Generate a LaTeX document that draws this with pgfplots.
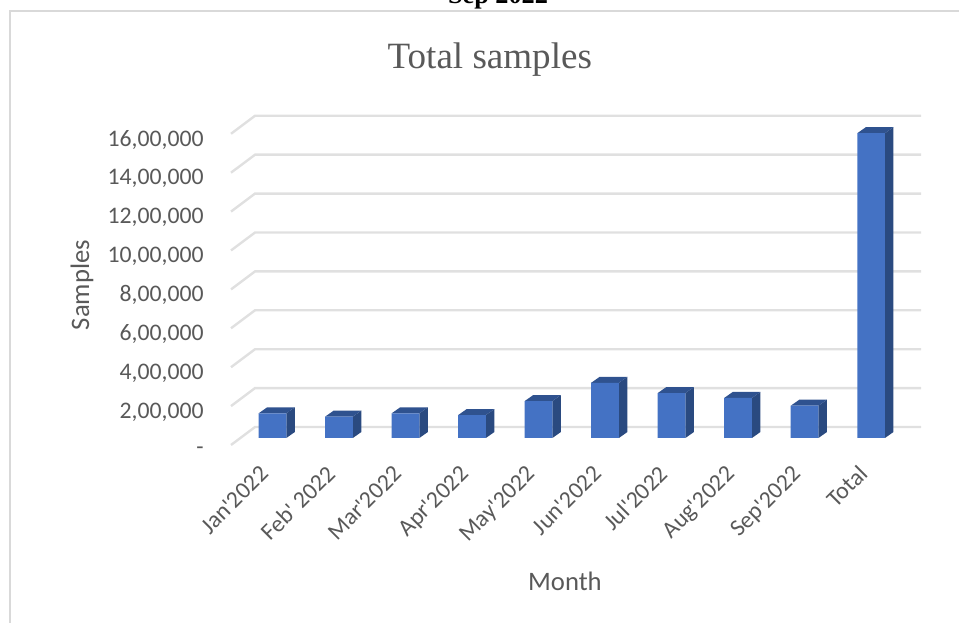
\documentclass[border=0pt]{standalone}
\usepackage{fontspec}
\usepackage{pgfplots}
\pgfplotsset{compat=1.18}
\setmainfont{Carlito}
\newfontfamily\carl{Carlito}
\newfontfamily\timesf{Liberation Serif}
\definecolor{txt}{HTML}{595959}
\definecolor{gridc}{HTML}{E0E0E0}
\definecolor{framec}{HTML}{D9D9D9}
\definecolor{front}{HTML}{4472C4}
\definecolor{topc}{HTML}{2F528F}
\definecolor{sidec}{HTML}{2A4A80}

% side and top faces of one bar: #1 = category position, #2 = samples
\newcommand{\cube}[2]{%
  \edef\temp{\noexpand\addplot[fill=sidec,draw=none,forget plot] coordinates {
    (\fpeval{#1+0.208},0) (\fpeval{#1+0.208},#2)
    (\fpeval{#1+0.336},\the\numexpr#2+30800\relax) (\fpeval{#1+0.336},30800)} --cycle;
  \noexpand\addplot[fill=topc,draw=none,forget plot] coordinates {
    (\fpeval{#1-0.208},#2) (\fpeval{#1+0.208},#2)
    (\fpeval{#1+0.336},\the\numexpr#2+30800\relax) (\fpeval{#1-0.080},\the\numexpr#2+30800\relax)} --cycle;}%
  \temp}
% one wall gridline with its slanted floor part
\newcommand{\wallline}[1]{%
  \edef\temp{\noexpand\addplot[gridc,line width=1.8pt,forget plot] coordinates {
    (-0.624,\the\numexpr#1-36000\relax) (-0.263,\the\numexpr#1+56500\relax)
    (9.75,\the\numexpr#1+56500\relax)};}%
  \temp}

\begin{document}
\begin{tikzpicture}
\draw[framec,line width=1.5pt] (719.25pt,459pt) -- (7.125pt,459pt) -- (7.125pt,0pt);
\node[anchor=base,font=\timesf\bfseries\fontsize{19.7}{22}\selectfont] at (373.5pt,464.6pt) {Sep 2022};
\begin{axis}[
  at={(173.25pt,133.5pt)}, anchor=south west,
  scale only axis, width=517.5pt, height=247.5pt,
  xmin=-0.624, xmax=9.75, ymin=-36000, ymax=1660600,
  clip=false,
  axis line style={draw=none},
  tick style={draw=none},
  scaled y ticks=false,
  xtick={0,...,9},
  xticklabels={Jan'2022,Feb' 2022,Mar'2022,Apr'2022,May'2022,Jun'2022,Jul'2022,Aug'2022,Sep'2022,Total},
  ytick={0,200000,400000,600000,800000,1000000,1200000,1400000,1600000},
  yticklabels={\raisebox{-4.5pt}{-}\hspace{16.5pt},{2,00,000},{4,00,000},{6,00,000},{8,00,000},{10,00,000},{12,00,000},{14,00,000},{16,00,000}},
  tick label style={font=\carl\fontsize{17.8}{20}\selectfont,text=txt},
  yticklabel style={xshift=-17pt,yshift=-9.75pt},
  xticklabel style={rotate=45,anchor=north east,yshift=0.8pt,xshift=-13.9pt},
  title={\timesf Total samples},
  title style={at={(axis description cs:0.375,1.118)},anchor=base,font=\fontsize{27.8}{30}\selectfont,text=txt},
  xlabel={Month},
  xlabel style={at={(axis description cs:0.484,-0.412)},anchor=center,font=\fontsize{20}{22}\selectfont,text=txt},
  ylabel={Samples},
  ylabel style={at={(axis description cs:-0.216,0.485)},anchor=center,font=\fontsize{20}{22}\selectfont,text=txt},
]
\wallline{0}
\wallline{200000}
\wallline{400000}
\wallline{600000}
\wallline{800000}
\wallline{1000000}
\wallline{1200000}
\wallline{1400000}
\wallline{1600000}
\cube{0}{127000}
\cube{1}{110000}
\cube{2}{127000}
\cube{3}{118000}
\cube{4}{190000}
\cube{5}{284000}
\cube{6}{231000}
\cube{7}{206000}
\cube{8}{166000}
\cube{9}{1567000}
\addplot[ybar,bar width=20.8pt,bar shift=0pt,fill=front,draw=none] coordinates {
  (0,127000) (1,110000) (2,127000) (3,118000) (4,190000)
  (5,284000) (6,231000) (7,206000) (8,166000) (9,1567000)};
\end{axis}
\pgfresetboundingbox
\useasboundingbox (0pt,0pt) rectangle (719.25pt,467.25pt);
\end{tikzpicture}
\end{document}
